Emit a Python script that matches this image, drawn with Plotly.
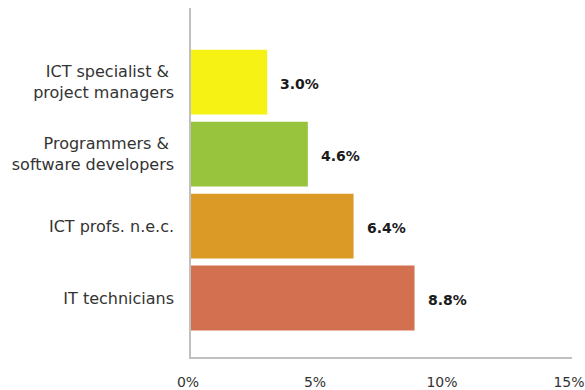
import plotly.graph_objects as go

categories = ["IT technicians", "ICT profs. n.e.c.", "Programmers & <br>software developers", "ICT specialist & <br>project managers"]
values = [8.8, 6.4, 4.6, 3.0]
labels = ["8.8%", "6.4%", "4.6%", "3.0%"]
colors = ["#D27050", "#DB9A26", "#97C43C", "#F6F213"]
tick_vals = [0, 5, 10, 15]
tick_text = ["0%", "5%", "10%", "15%"]

FONT = "DejaVu Sans, Open Sans, sans-serif"

fig = go.Figure(go.Bar(
    x=values, y=categories, orientation="h",
    marker=dict(color=colors, line=dict(width=0)),
    hoverinfo="skip",
))

for v, c, t in zip(values, categories, labels):
    fig.add_annotation(x=v, y=c, text="<b>" + t + "</b>", showarrow=False,
                       xanchor="left", xshift=11, yshift=-2,
                       font=dict(family=FONT, size=14, color="#1a1a1a"))

fig.update_layout(
    width=585, height=390,
    margin=dict(l=191, r=13, t=8, b=33),
    paper_bgcolor="white", plot_bgcolor="white",
    bargap=0.1, showlegend=False,
    font=dict(family=FONT, size=16, color="#333333"),
)
fig.update_xaxes(
    range=[0, 15], tickvals=tick_vals, ticktext=tick_text,
    showgrid=False, zeroline=False, automargin=False,
    showline=True, linecolor="#c0c0c0", linewidth=1.5,
    ticks="outside", ticklen=11, tickcolor="rgba(0,0,0,0)",
    ticklabelshift=-3, ticklabeloverflow="allow",
    tickfont=dict(family=FONT, size=14, color="#333333"),
)
fig.update_yaxes(
    categoryorder="array", categoryarray=categories,
    range=[-0.82, 4.03], automargin=False,
    showgrid=False, zeroline=False,
    showline=True, linecolor="#c0c0c0", linewidth=1.5,
    ticks="outside", ticklen=12, tickcolor="rgba(0,0,0,0)",
    tickfont=dict(family=FONT, size=16, color="#333333"),
)

fig.write_html(
    "out.html",
    config={"displayModeBar": False},
    post_script="document.body.style.margin='0';document.body.style.overflow='hidden';",
)
